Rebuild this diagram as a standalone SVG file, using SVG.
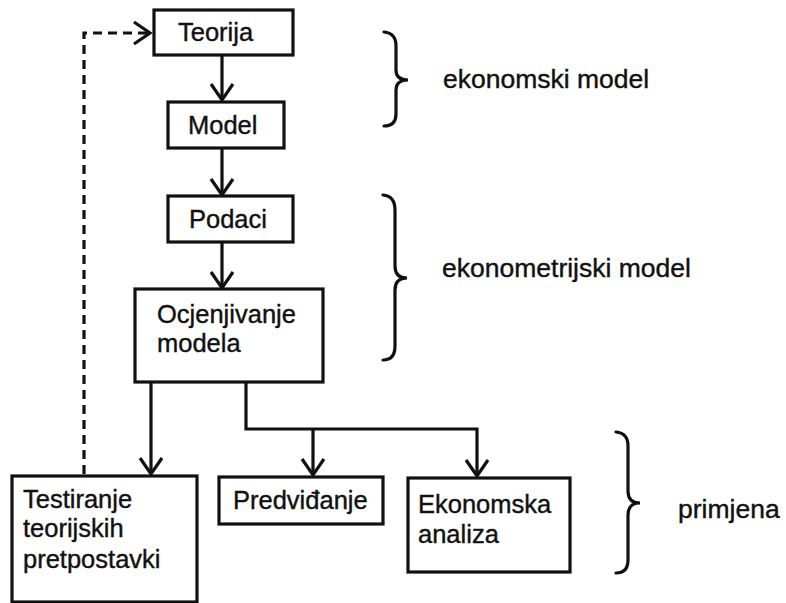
<svg xmlns="http://www.w3.org/2000/svg" width="786" height="603" viewBox="0 0 786 603">
<style>
.box{fill:#fff;stroke:#111;stroke-width:3.2}
.t{font-family:"Liberation Sans",Arial,sans-serif;font-size:25.5px;fill:#111;stroke:#111;stroke-width:0.4}
.l{font-family:"Liberation Sans",Arial,sans-serif;font-size:26.5px;fill:#111;stroke:#111;stroke-width:0.4}
.c{fill:none;stroke:#111;stroke-width:3.2}
.d{fill:none;stroke:#111;stroke-width:3.2;stroke-dasharray:9 6}
.br{fill:none;stroke:#111;stroke-width:3.2;stroke-linecap:round}
</style>
<defs>
<marker id="ah" markerUnits="userSpaceOnUse" markerWidth="34" markerHeight="34" refX="18" refY="17" orient="auto" viewBox="0 0 34 34">
<path d="M2,6 L18,17 L2,28" fill="none" stroke="#111" stroke-width="3.2"/>
</marker>
</defs>
<rect width="786" height="603" fill="#fff"/>
<g id="connectors">
<line class="c" x1="222" y1="55" x2="222" y2="100" marker-end="url(#ah)"/>
<line class="c" x1="222" y1="148" x2="222" y2="195" marker-end="url(#ah)"/>
<line class="c" x1="222" y1="242" x2="222" y2="288" marker-end="url(#ah)"/>
<line class="c" x1="151" y1="382" x2="151" y2="474" marker-end="url(#ah)"/>
<polyline class="c" points="246,382 246,429 477,429 477,476" marker-end="url(#ah)"/>
<line class="c" x1="313" y1="429" x2="313" y2="475" marker-end="url(#ah)"/>
<polyline class="d" points="84,474 84,33 150,33" marker-end="url(#ah)"/>
</g>
<g id="teorija"><rect class="box" x="154" y="10" width="139" height="45"/><text class="t" x="178" y="41">Teorija</text></g>
<g id="model"><rect class="box" x="168" y="102" width="116" height="46"/><text class="t" x="188" y="134">Model</text></g>
<g id="podaci"><rect class="box" x="168" y="196" width="125" height="46"/><text class="t" x="189" y="228">Podaci</text></g>
<g id="ocjenjivanje"><rect class="box" x="135" y="289" width="188" height="93"/><text class="t" x="157" y="323">Ocjenjivanje</text><text class="t" x="157" y="352">modela</text></g>
<g id="testiranje"><rect class="box" x="12" y="476" width="185" height="126"/><text class="t" x="23" y="508">Testiranje</text><text class="t" x="23" y="537">teorijskih</text><text class="t" x="23" y="568">pretpostavki</text></g>
<g id="predvidjanje"><rect class="box" x="219" y="477" width="164" height="47"/><text class="t" x="233" y="509">Predviđanje</text></g>
<g id="ekonomska"><rect class="box" x="408" y="478" width="162" height="94"/><text class="t" x="418" y="513">Ekonomska</text><text class="t" x="418" y="543">analiza</text></g>
<g id="brace1"><path class="br" d="M384,32 Q396,33 396,46 L396,70 Q396,80 408,80 Q396,80 396,90 L396,114 Q396,126 384,126"/><text class="l" x="443" y="88">ekonomski model</text></g>
<g id="brace2"><path class="br" d="M383,195 Q395,196 395,210 L395,266 Q395,278 407,278 Q395,278 395,290 L395,346 Q395,360 383,360"/><text class="l" x="442" y="277">ekonometrijski model</text></g>
<g id="brace3"><path class="br" d="M616,432 Q628,433 628,446 L628,491 Q628,503 640,503 Q628,503 628,515 L628,560 Q628,573 616,573"/><text class="l" x="678" y="518">primjena</text></g>
</svg>
